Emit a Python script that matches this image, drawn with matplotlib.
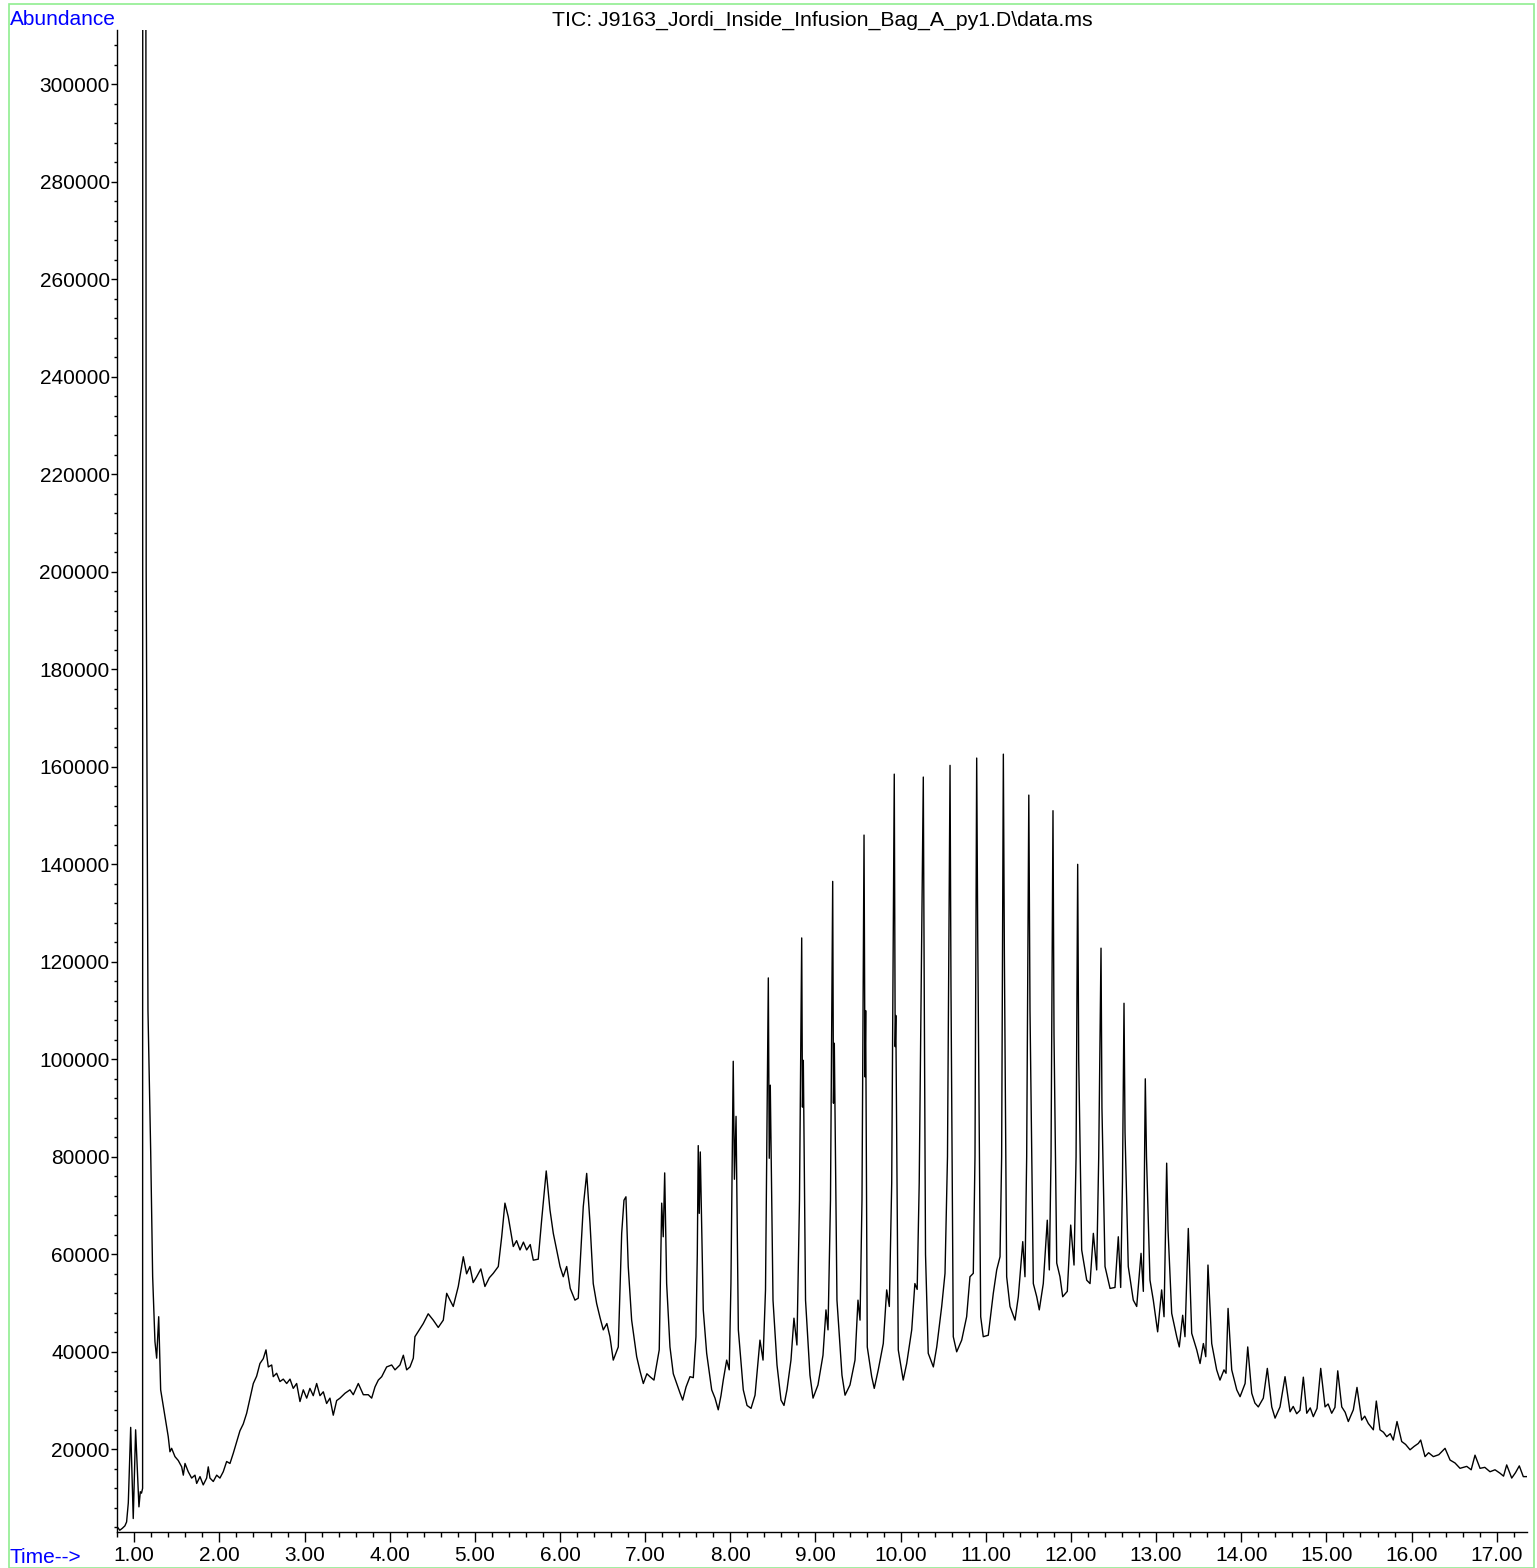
import matplotlib
matplotlib.use("Agg")
import matplotlib.pyplot as plt
from matplotlib.patches import Rectangle
from matplotlib.ticker import MultipleLocator, FormatStrFormatter

plt.rcParams['font.family'] = ['Liberation Sans', 'DejaVu Sans']

title_text = r"TIC: J9163_Jordi_Inside_Infusion_Bag_A_py1.D\data.ms"

# (time in min, abundance)
# solvent front + off-scale peak (apex above the plot top)
solvent_front = [
    (0.80, 4100), (0.83, 3400), (0.86, 3800), (0.89, 4300), (0.91, 5100),
    (0.93, 9000), (0.958, 24500), (0.988, 5800), (1.016, 24000), (1.055, 8200),
    (1.071, 11300), (1.085, 11000), (1.098, 12000), (1.100, 400000),
    (1.134, 400000), (1.140, 200000), (1.161, 110000), (1.193, 81000),
    (1.216, 55400), (1.243, 42100), (1.263, 38700), (1.287, 47200), (1.310, 32200),
    (1.361, 26700), (1.399, 22600), (1.419, 19500), (1.439, 20200), (1.478, 18500),
    (1.517, 17700), (1.557, 16400), (1.576, 14700), (1.596, 17100), (1.634, 15400),
    (1.674, 14100), (1.713, 14700), (1.733, 13000), (1.772, 14400), (1.810, 12700),
    (1.850, 14100), (1.869, 16400), (1.889, 14100), (1.928, 13400), (1.968, 14700),
    (2.006, 14100), (2.045, 15400),
]

# broad hump from 2 to 8 min
hump_region = [
    (2.085, 17500), (2.124, 17100), (2.163, 19200), (2.202, 21500), (2.241, 23800),
    (2.280, 25200), (2.320, 27400), (2.359, 30500), (2.398, 33500), (2.437, 35000),
    (2.476, 37600), (2.515, 38600), (2.547, 40400), (2.574, 36900), (2.614, 37300),
    (2.632, 34900), (2.672, 35600), (2.711, 33900), (2.750, 34400), (2.790, 33500),
    (2.829, 34400), (2.867, 32500), (2.907, 33500), (2.946, 29800), (2.985, 32200),
    (3.025, 30500), (3.063, 32500), (3.102, 31000), (3.142, 33500), (3.181, 31000),
    (3.220, 31800), (3.259, 29400), (3.298, 30500), (3.337, 27000), (3.377, 30000),
    (3.416, 30500), (3.475, 31500), (3.533, 32200), (3.572, 31200), (3.631, 33500),
    (3.690, 31200), (3.748, 31200), (3.788, 30500), (3.827, 32800), (3.866, 34200),
    (3.906, 34900), (3.964, 36900), (4.023, 37300), (4.062, 36300), (4.120, 37300),
    (4.160, 39300), (4.199, 36300), (4.238, 36900), (4.277, 38700), (4.296, 43100),
    (4.394, 45800), (4.452, 47800), (4.511, 46500), (4.570, 45000), (4.629, 46500),
    (4.669, 52000), (4.708, 50600), (4.746, 49300), (4.805, 53400), (4.864, 59500),
    (4.903, 56000), (4.942, 57500), (4.980, 54200), (5.021, 55400), (5.070, 57000),
    (5.118, 53400), (5.170, 55200), (5.216, 56100), (5.275, 57500), (5.315, 63600),
    (5.353, 70500), (5.392, 67700), (5.451, 61600), (5.490, 62800), (5.530, 60900),
    (5.570, 62500), (5.608, 60900), (5.650, 62000), (5.686, 58800), (5.744, 59000),
    (5.784, 67000), (5.838, 77100), (5.882, 69100), (5.921, 64300), (5.961, 60900),
    (6.000, 57500), (6.038, 55400), (6.078, 57500), (6.120, 53000), (6.175, 50600),
    (6.214, 51000), (6.273, 69800), (6.313, 76600), (6.352, 66400), (6.390, 54000),
    (6.430, 49900), (6.470, 47000), (6.508, 44500), (6.550, 45800), (6.586, 43100),
    (6.625, 38300), (6.684, 41000), (6.724, 64300), (6.751, 71100), (6.774, 71800),
    (6.801, 57500), (6.841, 46500), (6.900, 39000), (6.940, 36000), (6.978, 33500),
    (7.020, 35500), (7.056, 34900), (7.103, 34200), (7.165, 40400), (7.194, 70500),
    (7.212, 63600), (7.229, 76700), (7.252, 54000), (7.291, 41000), (7.330, 35500),
    (7.370, 33500), (7.410, 31500), (7.440, 30100), (7.480, 32800), (7.526, 34900),
    (7.565, 34700), (7.596, 43100), (7.612, 60000), (7.623, 82300), (7.635, 68400),
    (7.647, 81000), (7.682, 48600), (7.722, 39700), (7.781, 32200), (7.820, 30500),
    (7.858, 28100), (7.890, 31000), (7.917, 34200), (7.957, 38300), (7.987, 36300),
    (8.007, 54000),
]

# oligomer series, 8 - 13 min
oligomer_region = [
    (8.034, 99600), (8.048, 75400), (8.067, 88300), (8.094, 44500), (8.152, 32200),
    (8.196, 29000), (8.243, 28400), (8.290, 31100), (8.348, 42400), (8.384, 38300),
    (8.413, 52700), (8.446, 116700), (8.457, 79700), (8.469, 94700), (8.501, 50600),
    (8.548, 37300), (8.595, 30100), (8.630, 29000), (8.665, 32200), (8.712, 38300),
    (8.747, 46900), (8.782, 41400), (8.812, 71100), (8.838, 124900), (8.847, 90200),
    (8.857, 99800), (8.883, 50600), (8.935, 35200), (8.971, 30500), (9.029, 33200),
    (9.088, 39300), (9.123, 48600), (9.147, 44500), (9.176, 71100), (9.202, 136500),
    (9.211, 91000), (9.221, 103300), (9.252, 50600), (9.311, 35200), (9.347, 31100),
    (9.405, 33200), (9.464, 38300), (9.499, 50600), (9.523, 46500), (9.546, 71100),
    (9.570, 146000), (9.581, 96400), (9.589, 110000), (9.608, 41000), (9.660, 34900),
    (9.690, 32500), (9.737, 36300), (9.796, 41700), (9.836, 52700), (9.867, 49300),
    (9.895, 74600), (9.925, 158500), (9.936, 102600), (9.943, 109000), (9.972, 40400),
    (10.011, 36300), (10.030, 34200), (10.071, 37600), (10.130, 44500), (10.167, 54000),
    (10.194, 52800), (10.218, 74600), (10.266, 157900), (10.277, 114200),
    (10.292, 60000), (10.324, 39700), (10.384, 36900), (10.424, 41000), (10.482, 49300),
    (10.521, 56100), (10.550, 80000), (10.580, 160300), (10.591, 115200),
    (10.618, 43100), (10.658, 40000), (10.717, 42400), (10.775, 47200), (10.814, 55400),
    (10.853, 56100), (10.873, 80000), (10.893, 161800), (10.905, 125500),
    (10.940, 47200), (10.970, 43100), (11.029, 43400), (11.088, 52000), (11.128, 56800),
    (11.167, 59500), (11.186, 80000), (11.206, 162600), (11.218, 121800),
    (11.245, 55400), (11.284, 49300), (11.343, 46500), (11.382, 51300), (11.434, 62600),
    (11.460, 55400), (11.480, 80000), (11.505, 154200), (11.519, 110000),
    (11.558, 54000), (11.598, 51300), (11.628, 48600), (11.675, 54000), (11.722, 67000),
    (11.746, 56800), (11.766, 80000), (11.789, 151000), (11.801, 105000),
    (11.833, 58200), (11.871, 55400), (11.903, 51300), (11.957, 52400), (11.997, 66000),
    (12.036, 57800), (12.060, 80000), (12.079, 140000), (12.091, 100000),
    (12.126, 60900), (12.185, 54700), (12.224, 54000), (12.263, 64300), (12.302, 56800),
    (12.326, 80000), (12.353, 122800), (12.364, 90000), (12.400, 57500), (12.459, 53000),
    (12.517, 53200), (12.556, 63600), (12.584, 53200), (12.605, 75000), (12.623, 111500),
    (12.635, 85000), (12.673, 57500), (12.732, 50600), (12.772, 49300), (12.823, 60200),
    (12.850, 52400), (12.873, 96000), (12.887, 80000), (12.928, 54700), (12.967, 50600),
]

# tail, 13 min to end of run
tail_region = [
    (13.018, 44100), (13.065, 52700), (13.093, 47200), (13.124, 78700), (13.140, 65000),
    (13.183, 47900), (13.242, 43100), (13.272, 41000), (13.312, 47500), (13.339, 43100),
    (13.378, 65300), (13.418, 43800), (13.477, 40400), (13.516, 37600), (13.555, 41700),
    (13.583, 39000), (13.609, 57800), (13.653, 41700), (13.711, 36300), (13.750, 34200),
    (13.797, 36300), (13.821, 35600), (13.845, 48900), (13.888, 36300), (13.947, 32200),
    (13.986, 30800), (14.045, 33500), (14.076, 41000), (14.123, 31500), (14.160, 29500),
    (14.200, 28700), (14.259, 30500), (14.306, 36600), (14.358, 28700), (14.397, 26400),
    (14.455, 28700), (14.514, 34900), (14.573, 27700), (14.610, 28800), (14.651, 27300),
    (14.690, 28000), (14.729, 34800), (14.769, 27400), (14.810, 28500), (14.846, 26700),
    (14.890, 28400), (14.933, 36600), (14.984, 28700), (15.020, 29300), (15.062, 27400),
    (15.100, 28600), (15.133, 36100), (15.180, 28700), (15.220, 27600), (15.257, 25700),
    (15.316, 28100), (15.359, 32700), (15.414, 26000), (15.450, 26800), (15.492, 25300),
    (15.551, 24000), (15.586, 29900), (15.629, 24000), (15.670, 23500), (15.708, 22600),
    (15.750, 23200), (15.785, 21900), (15.829, 25700), (15.884, 21600), (15.930, 21000),
    (15.982, 19900), (16.030, 20600), (16.079, 21200), (16.107, 21900), (16.158, 18500),
    (16.200, 19300), (16.256, 18500), (16.320, 18900), (16.393, 20200), (16.452, 17800),
    (16.510, 17200), (16.569, 16100), (16.648, 16500), (16.700, 15800), (16.745, 18800),
    (16.804, 16100), (16.860, 16300), (16.921, 15400), (16.980, 15800), (17.038, 15100),
    (17.080, 14500), (17.117, 16800), (17.176, 14100), (17.220, 15200), (17.265, 16600),
    (17.312, 14400), (17.352, 14400),
]

trace = solvent_front + hump_region + oligomer_region + tail_region
times = [p[0] for p in trace]
counts = [p[1] for p in trace]

fig = plt.figure(figsize=(15.37, 15.68), dpi=100)
ax = fig.add_axes([0.0759, 0.02315, 0.9174, 0.9577])

ax.plot(times, counts, color='black', lw=1.0)

ax.set_xlim(0.7933, 17.352)
ax.set_ylim(3100, 311140)

ax.spines['top'].set_visible(False)
ax.spines['right'].set_visible(False)
ax.spines['left'].set_linewidth(1.0)
ax.spines['bottom'].set_linewidth(1.0)

ax.xaxis.set_major_locator(MultipleLocator(1.0))
ax.xaxis.set_minor_locator(MultipleLocator(0.2))
ax.xaxis.set_major_formatter(FormatStrFormatter('%.2f'))
ax.yaxis.set_major_locator(MultipleLocator(20000))
ax.yaxis.set_minor_locator(MultipleLocator(4000))
ax.yaxis.set_major_formatter(FormatStrFormatter('%d'))

ax.tick_params(axis='x', which='major', direction='out', length=7, width=1, labelsize=15, pad=3)
ax.tick_params(axis='x', which='minor', direction='out', length=3.5, width=1)
ax.tick_params(axis='y', which='major', direction='out', length=4, width=1, labelsize=15, pad=1)
ax.tick_params(axis='y', which='minor', direction='out', length=2, width=1)

# green frame round the whole page
fig.patches.append(Rectangle((9 / 1537, 0.0), 1525 / 1537, 1 - 4 / 1568,
                             transform=fig.transFigure, fill=False,
                             edgecolor='#90ee90', lw=1.2))

fig.text(10 / 1537, 1 - 25 / 1568, "Abundance", color='blue', fontsize=15,
         ha='left', va='baseline')
fig.text(10 / 1537, 1 - 1563 / 1568, "Time-->", color='blue', fontsize=15,
         ha='left', va='baseline')
fig.text(822 / 1537, 1 - 26 / 1568, title_text, color='black', fontsize=15.3,
         ha='center', va='baseline')

fig.savefig("out.png", dpi=100)
